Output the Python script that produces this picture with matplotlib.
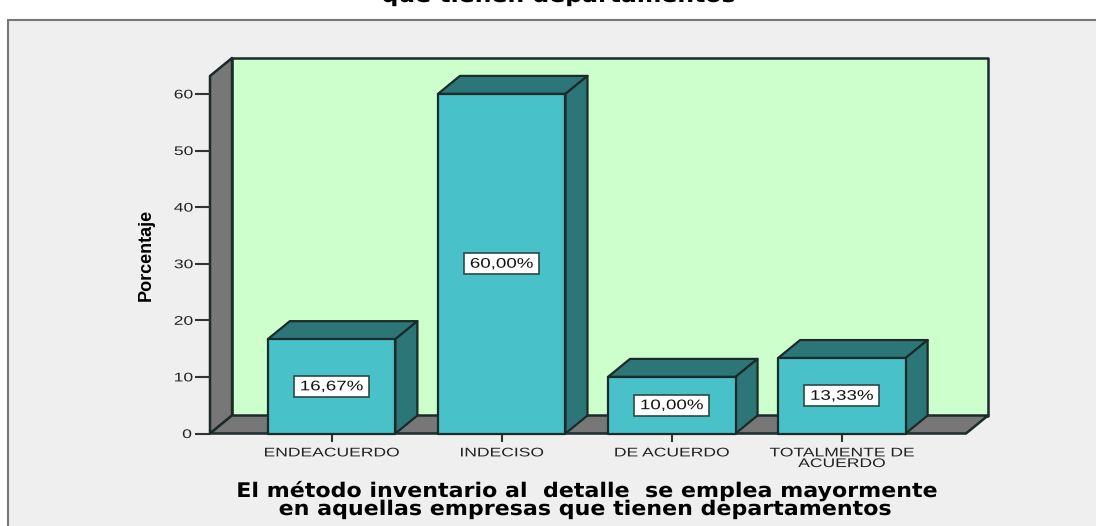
import matplotlib
matplotlib.use('Agg')
import matplotlib.pyplot as plt
from matplotlib.patches import Polygon, Rectangle
from matplotlib.patheffects import AbstractPathEffect
from matplotlib.transforms import Affine2D

categories = ['ENDEACUERDO', 'INDECISO', 'DE ACUERDO', 'TOTALMENTE DE\nACUERDO']
values = [16.67, 60.00, 10.00, 13.33]
value_labels = ['16,67%', '60,00%', '10,00%', '13,33%']
y_ticks = [0, 10, 20, 30, 40, 50, 60]

W, H = 1096, 526
FRONT = '#48C2C8'
DARK = '#2D7678'
EDGE = '#1c2a2a'
GREY = '#777777'

plt.rcParams['font.family'] = ['Liberation Sans', 'DejaVu Sans']


class Stretch(AbstractPathEffect):
    # the original text is drawn wide, this widens each line about its own centre
    def __init__(self, sx):
        super().__init__()
        self.sx = sx

    def draw_path(self, renderer, gc, tpath, affine, rgbFace=None):
        ext = tpath.get_extents()
        c = (ext.x0 + ext.x1) / 2
        t = Affine2D().translate(-c, 0).scale(self.sx, 1).translate(c, 0) + affine
        renderer.draw_path(gc, tpath, t, rgbFace)


fig = plt.figure(figsize=(W / 100, H / 100), dpi=100, facecolor='white')

# grey panel behind the chart
fig.patches.append(Rectangle((8 / W, -0.01), 1.1, 1 - 20 / H + 0.01, transform=fig.transFigure,
                             facecolor='#EFEFEF', edgecolor='#777777', linewidth=1.5, zorder=-1))

ax = fig.add_axes([210 / W, 1 - 433.5 / H, 756 / W, 357.5 / H])
ax.set_facecolor('none')
ax.set_xlim(-0.715, 3.73)
ax.set_ylim(0, 357.5 / 5.66)
for s in ax.spines.values():
    s.set_visible(False)

xmin, xmax = ax.get_xlim()
ymax = ax.get_ylim()[1]
dx = 22 / 170
dy = 18 / 5.66
w = 0.75
box_w = 75 / 170
box_h = 21 / 5.66


def poly(pts, color, z=2, lw=1.6):
    ax.add_patch(Polygon(pts, closed=True, facecolor=color, edgecolor=EDGE, linewidth=lw,
                         clip_on=False, zorder=z, joinstyle='round'))


# walls and floor
poly([(xmin + dx, dy), (xmax + dx, dy), (xmax + dx, ymax + dy), (xmin + dx, ymax + dy)], '#CCFFCC', 1, 1.8)
poly([(xmin, 0), (xmin + dx, dy), (xmin + dx, ymax + dy), (xmin, ymax)], GREY, 1, 1.8)
poly([(xmin, 0), (xmax, 0), (xmax + dx, dy), (xmin + dx, dy)], GREY, 1, 1.8)

for i, v in enumerate(values):
    l, r = i - w / 2, i + w / 2
    poly([(l, v), (r, v), (r + dx, v + dy), (l + dx, v + dy)], DARK, 3)
    poly([(r, 0), (r + dx, dy), (r + dx, v + dy), (r, v)], DARK, 3)
    poly([(l, 0), (r, 0), (r, v), (l, v)], FRONT, 4)
    ax.add_patch(Rectangle((i - box_w / 2, v / 2 - box_h / 2), box_w, box_h, facecolor='white',
                           edgecolor='#2a4a4a', linewidth=1.2, zorder=5))
    ax.text(i, v / 2, value_labels[i], ha='center', va='center', fontsize=10, color='#111111',
            zorder=6, path_effects=[Stretch(1.35)])

ax.set_xticks(range(len(categories)))
ax.set_xticklabels(categories, fontsize=9, color='#222222', linespacing=0.85)
ax.set_yticks(y_ticks)
ax.tick_params(axis='x', length=6, width=1.5, color='#333333', pad=4)
ax.tick_params(axis='y', length=11, width=1.5, color='#333333', pad=3, labelsize=9, labelcolor='#222222')
for lab in ax.get_xticklabels():
    lab.set_path_effects([Stretch(1.4)])
for lab in ax.get_yticklabels():
    lab.set_path_effects([Stretch(1.4)])

fig.text(146 / W, 1 - 255 / H, 'Porcentaje', rotation=90, ha='center', va='center', fontsize=13,
         fontweight='bold', family='Liberation Sans', color='black')
fig.text(588 / W, 1 - 497 / H, 'El método inventario al  detalle  se emplea mayormente', ha='center', va='baseline',
         fontsize=14.5, fontweight='bold', family='DejaVu Sans', color='black', path_effects=[Stretch(1.1)])
fig.text(586 / W, 1 - 515 / H, 'en aquellas empresas que tienen departamentos', ha='center', va='baseline',
         fontsize=14.5, fontweight='bold', family='DejaVu Sans', color='black', path_effects=[Stretch(1.1)])
fig.text(559 / W, 1 - 2 / H, 'que tienen departamentos', ha='center', va='baseline', fontsize=14.5,
         fontweight='bold', family='DejaVu Sans', color='black', path_effects=[Stretch(1.17)])

fig.savefig('out.png', dpi=100)
